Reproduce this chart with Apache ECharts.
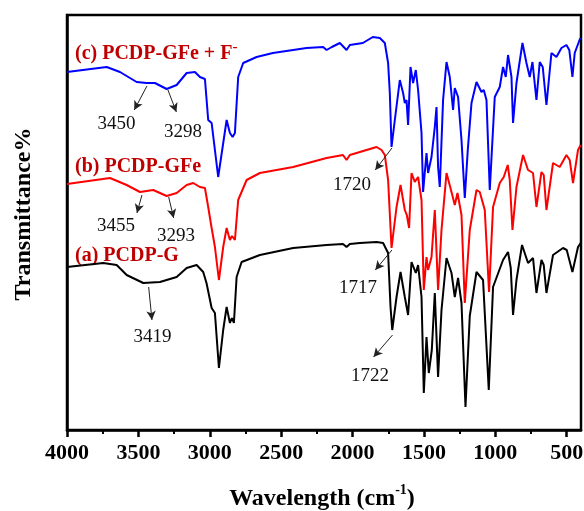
<!DOCTYPE html>
<html><head><meta charset="utf-8">
<script src="https://cdn.jsdelivr.net/npm/echarts@6/dist/echarts.min.js"></script>
<style>html,body{margin:0;padding:0;background:#fff}#c{width:584px;height:511px}</style>
</head><body><div id="c"></div>
<script>
// Tick labels (cm^-1)
const xMajorTicks = [4000, 3500, 3000, 2500, 2000, 1500, 1000, 500];
const xMinorTicks = [3750, 3250, 2750, 2250, 1750, 1250, 750];

// (c) PCDP-GFe + F-  (blue)
const cWave = [4000,3722,3629,3512,3442,3384,3302,3232,3162,3104,3069,3034,3011,2987,2941,2882,2859,2840,2824,2801,2766,2672,2558,2322,2206,2182,2145,2089,2042,2019,1928,1858,1809,1774,1751,1739,1727,1704,1669,1646,1634,1622,1611,1594,1576,1557,1541,1517,1506,1482,1471,1447,1424,1412,1401,1389,1366,1342,1319,1296,1284,1261,1237,1214,1193,1167,1132,1097,1081,1062,1039,1004,969,946,927,911,887,876,852,810,782,759,740,712,689,668,642,607,572,537,502,482,460,444,405];
const cT    = [358,363,358,348,347,347,341,345,357,358,353,351,310,307,253,310,297,293,297,353,367,373,377,382,383,380,383,387,380,385,387,393,392,387,367,337,283,310,350,337,327,330,305,363,347,360,340,297,238,277,257,273,303,323,263,243,330,368,353,320,342,333,290,232,280,327,348,338,340,330,240,333,343,363,353,375,353,307,347,387,367,353,368,330,368,363,325,377,373,382,385,380,353,377,392];

// (b) PCDP-GFe  (red)
const bWave = [4000,3699,3582,3489,3396,3302,3232,3162,3116,3069,3034,3011,2987,2964,2936,2906,2882,2859,2845,2824,2801,2742,2649,2416,2182,2067,2042,2019,1902,1832,1797,1774,1751,1727,1692,1664,1634,1620,1604,1587,1564,1541,1517,1501,1482,1471,1447,1424,1401,1377,1342,1307,1284,1265,1237,1214,1179,1132,1109,1074,1044,1016,969,941,913,899,880,852,806,771,736,712,677,661,642,596,549,502,479,456,421,402];
const bT    = [246,252,245,238,240,234,237,245,247,243,242,223,202,183,150,183,202,190,194,190,230,250,257,263,272,275,270,275,280,283,280,275,250,182,223,245,220,215,202,257,248,253,230,140,173,160,173,220,140,200,257,238,225,237,215,127,200,240,238,220,138,223,247,253,265,250,200,243,275,260,257,223,258,255,220,267,263,275,270,247,280,285];

// (a) PCDP-G  (black)
const aWave = [4000,3746,3652,3582,3466,3349,3232,3162,3092,3046,3023,2987,2964,2936,2906,2882,2859,2845,2831,2812,2777,2649,2416,2182,2067,2042,2019,1949,1832,1786,1751,1734,1722,1692,1664,1634,1611,1587,1557,1541,1517,1501,1482,1466,1445,1424,1401,1377,1342,1307,1284,1261,1237,1209,1179,1132,1086,1046,1016,946,911,892,876,852,813,771,736,712,677,661,642,596,526,500,460,421,402];
const aT    = [163,167,165,155,147,148,153,162,165,158,147,122,117,62,100,123,107,112,107,153,168,175,182,185,186,183,186,187,188,187,177,123,100,133,158,133,115,168,157,165,133,37,93,57,80,137,53,120,172,157,133,152,127,23,114,158,150,40,143,170,178,162,115,150,185,167,172,137,170,165,137,175,182,180,158,183,187];

const zip = (w, t) => w.map((v, i) => [v, t[i]]);
const serif = "'Liberation Serif','Times New Roman',serif";
const labelRed = '#c00000';

function arrow(from, to) {
  return [{ coord: from }, { coord: to }];
}

const chart = echarts.init(document.getElementById('c'), null, { renderer: 'canvas' });
chart.setOption({
  animation: false,
  backgroundColor: '#fff',
  grid: { left: 67, right: 3, top: 15, bottom: 81, outerBoundsMode: 'none', containLabel: false, show: true, borderColor: '#000', borderWidth: 2.5, backgroundColor: 'transparent' },
  xAxis: [{
    type: 'value', inverse: true, min: 400, max: 4000,
    axisLine: { show: true, lineStyle: { color: '#000', width: 2.5 } },
    axisTick: { show: true, inside: false, length: 7, lineStyle: { color: '#000', width: 2.5 }, customValues: xMajorTicks },
    axisLabel: { customValues: xMajorTicks, formatter: v => String(v), color: '#000', fontFamily: serif, fontWeight: 'bold', fontSize: 22, margin: 12, hideOverlap: false },
    splitLine: { show: false }
  }, {
    type: 'value', inverse: true, min: 400, max: 4000, position: 'bottom',
    axisLine: { show: false },
    axisTick: { show: true, inside: false, length: 4, lineStyle: { color: '#000', width: 2 }, customValues: xMinorTicks },
    axisLabel: { show: false },
    splitLine: { show: false }
  }],
  yAxis: {
    type: 'value', min: 0, max: 415,
    axisLine: { show: true, lineStyle: { color: '#000', width: 2.5 } },
    axisTick: { show: false }, axisLabel: { show: false }, splitLine: { show: false }
  },
  series: [
    { name: '(c)', type: 'line', data: zip(cWave, cT), showSymbol: false, lineStyle: { color: '#0000ff', width: 2 }, itemStyle: { color: '#0000ff' },
      markLine: { silent: true, symbol: ['none', 'arrow'], symbolSize: [7, 9], label: { show: false },
        lineStyle: { color: '#222', width: 1, type: 'solid' },
        data: [arrow([3440, 344], [3529, 320]), arrow([3293, 340], [3234, 318]), arrow([1724, 282], [1841, 260])] } },
    { name: '(b)', type: 'line', data: zip(bWave, bT), showSymbol: false, lineStyle: { color: '#ff0000', width: 2 }, itemStyle: { color: '#ff0000' },
      markLine: { silent: true, symbol: ['none', 'arrow'], symbolSize: [7, 9], label: { show: false },
        lineStyle: { color: '#222', width: 1, type: 'solid' },
        data: [arrow([3475, 235], [3510, 217]), arrow([3288, 233], [3253, 212]), arrow([1724, 180], [1841, 160])] } },
    { name: '(a)', type: 'line', data: zip(aWave, aT), showSymbol: false, lineStyle: { color: '#000000', width: 2 }, itemStyle: { color: '#000' },
      markLine: { silent: true, symbol: ['none', 'arrow'], symbolSize: [7, 9], label: { show: false },
        lineStyle: { color: '#222', width: 1, type: 'solid' },
        data: [arrow([3428, 143], [3405, 110]), arrow([1720, 95], [1853, 73])] } }
  ],
  graphic: [
    { type: 'text', x: 75, y: 52, style: { text: '{m|(c) PCDP-GFe + F}{s|-}', verticalAlign: 'middle',
        rich: { m: { fontSize: 20, fontWeight: 'bold', fontFamily: serif, fill: labelRed, lineHeight: 24, verticalAlign: 'bottom' },
                s: { fontSize: 15, fontWeight: 'bold', fontFamily: serif, fill: labelRed, lineHeight: 24, verticalAlign: 'top' } } } },
    { type: 'text', x: 75, y: 167, style: { text: '(b) PCDP-GFe', fill: labelRed, font: 'bold 20px ' + serif, verticalAlign: 'middle' } },
    { type: 'text', x: 75, y: 256, style: { text: '(a) PCDP-G', fill: labelRed, font: 'bold 20px ' + serif, verticalAlign: 'middle' } },
    { type: 'text', x: 116.5, y: 124, style: { text: '3450', fill: '#111', font: '19px ' + serif, align: 'center', verticalAlign: 'middle' } },
    { type: 'text', x: 183, y: 132, style: { text: '3298', fill: '#111', font: '19px ' + serif, align: 'center', verticalAlign: 'middle' } },
    { type: 'text', x: 352, y: 185, style: { text: '1720', fill: '#111', font: '19px ' + serif, align: 'center', verticalAlign: 'middle' } },
    { type: 'text', x: 116, y: 226, style: { text: '3455', fill: '#111', font: '19px ' + serif, align: 'center', verticalAlign: 'middle' } },
    { type: 'text', x: 176, y: 236, style: { text: '3293', fill: '#111', font: '19px ' + serif, align: 'center', verticalAlign: 'middle' } },
    { type: 'text', x: 358, y: 288, style: { text: '1717', fill: '#111', font: '19px ' + serif, align: 'center', verticalAlign: 'middle' } },
    { type: 'text', x: 152.5, y: 337, style: { text: '3419', fill: '#111', font: '19px ' + serif, align: 'center', verticalAlign: 'middle' } },
    { type: 'text', x: 370, y: 376, style: { text: '1722', fill: '#111', font: '19px ' + serif, align: 'center', verticalAlign: 'middle' } },
    { type: 'text', x: 24, y: 214, rotation: Math.PI / 2, style: { text: 'Transmittance%', fill: '#000', font: 'bold 24px ' + serif, align: 'center', verticalAlign: 'middle' } },
    { type: 'text', x: 322, y: 497, style: { text: '{m|Wavelength (cm}{s|-1}{m|)}', align: 'center', verticalAlign: 'middle',
        rich: { m: { fontSize: 24, fontWeight: 'bold', fontFamily: serif, fill: '#000', lineHeight: 28, verticalAlign: 'bottom' },
                s: { fontSize: 14, fontWeight: 'bold', fontFamily: serif, fill: '#000', lineHeight: 28, verticalAlign: 'top' } } } }
  ]
});
</script></body></html>
